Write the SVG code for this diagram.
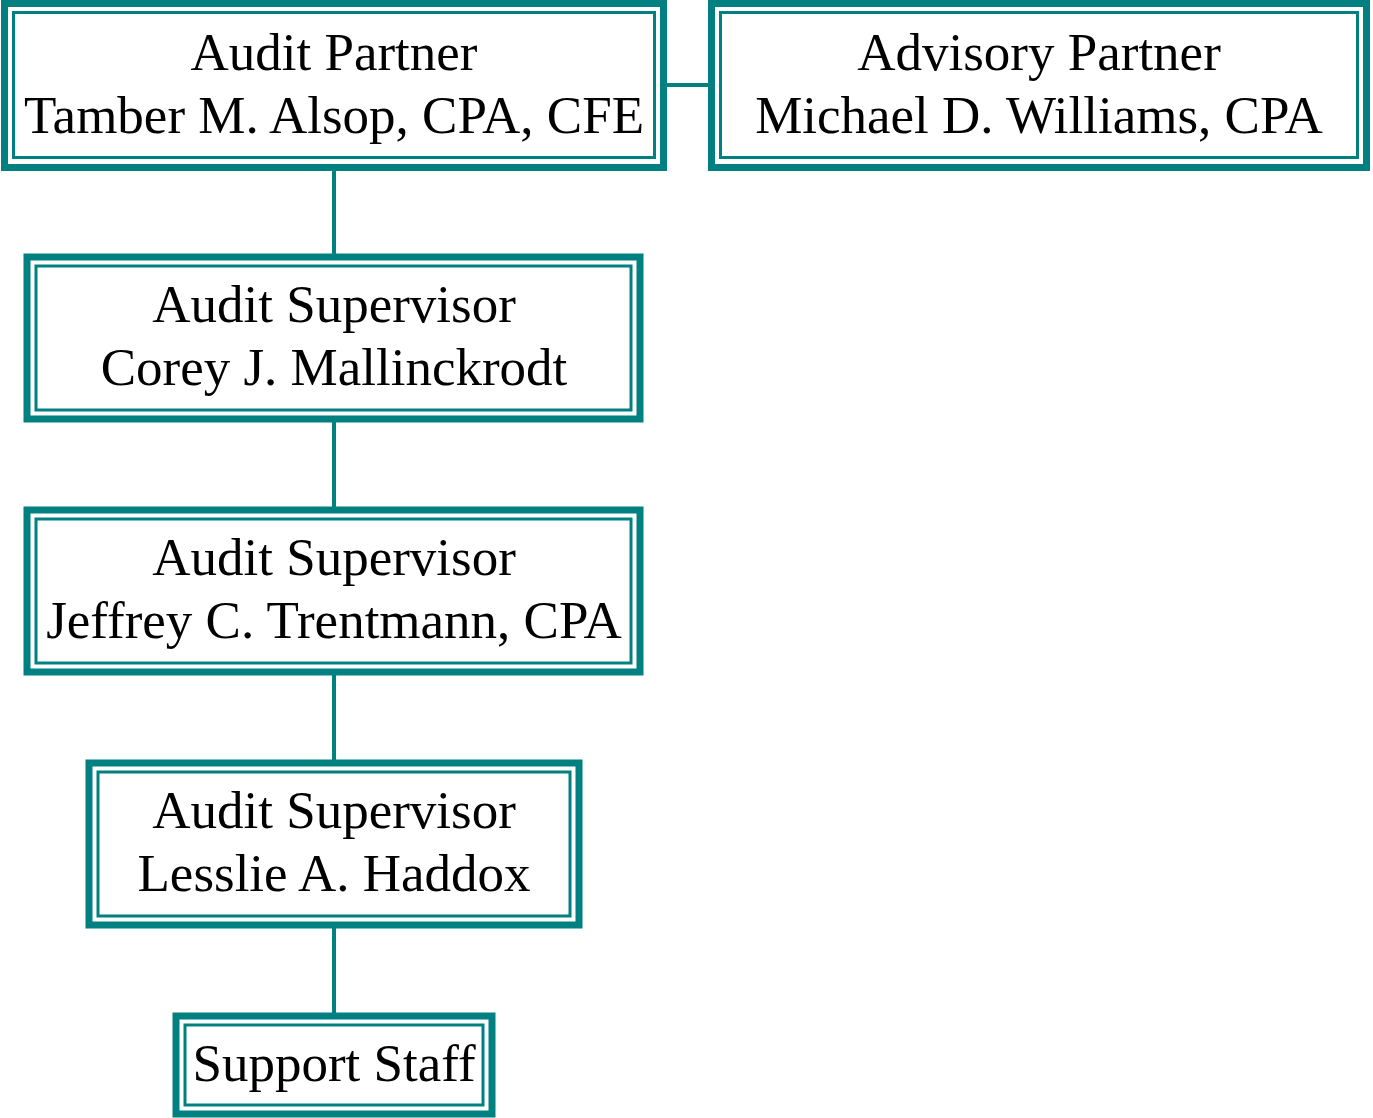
<svg xmlns="http://www.w3.org/2000/svg" width="1373" height="1118" viewBox="0 0 1373 1118">
<style>
.o{fill:#fff;stroke:#008080;stroke-width:7}
.i{fill:none;stroke:#008080;stroke-width:3}
.t{font-family:"Liberation Serif","Times New Roman",serif;font-size:53px;fill:#000;text-anchor:middle}
.c{stroke:#008080;stroke-width:4;fill:none}
</style>
<g id="connectors">
<line class="c" x1="334" y1="170" x2="334" y2="254"/>
<line class="c" x1="334" y1="422" x2="334" y2="507"/>
<line class="c" x1="334" y1="675" x2="334" y2="760"/>
<line class="c" x1="334" y1="928" x2="334" y2="1013"/>
<line class="c" x1="666" y1="85" x2="709" y2="85"/>
</g>
<g id="audit-partner">
<rect class="o" x="4.5" y="3.5" width="659" height="164"/>
<rect class="i" x="13.5" y="12.5" width="641" height="145"/>
<text class="t" x="334" y="70">Audit Partner</text>
<text class="t" x="334" y="133">Tamber M. Alsop, CPA, CFE</text>
</g>
<g id="advisory-partner">
<rect class="o" x="711.5" y="3.5" width="655" height="164"/>
<rect class="i" x="720.5" y="12.5" width="637" height="145"/>
<text class="t" x="1039" y="70">Advisory Partner</text>
<text class="t" x="1039" y="133">Michael D. Williams, CPA</text>
</g>
<g id="supervisor-corey">
<rect class="o" x="27" y="257" width="613" height="162"/>
<rect class="i" x="36" y="266" width="595" height="144"/>
<text class="t" x="334" y="322">Audit Supervisor</text>
<text class="t" x="334" y="385">Corey J. Mallinckrodt</text>
</g>
<g id="supervisor-jeffrey">
<rect class="o" x="27" y="510" width="613" height="162"/>
<rect class="i" x="36" y="519" width="595" height="144"/>
<text class="t" x="334" y="575">Audit Supervisor</text>
<text class="t" x="334" y="638">Jeffrey C. Trentmann, CPA</text>
</g>
<g id="supervisor-lesslie">
<rect class="o" x="89" y="763" width="490" height="162"/>
<rect class="i" x="98" y="772" width="472" height="144"/>
<text class="t" x="334" y="828">Audit Supervisor</text>
<text class="t" x="334" y="891">Lesslie A. Haddox</text>
</g>
<g id="support-staff">
<rect class="o" x="176" y="1016" width="316" height="98"/>
<rect class="i" x="185" y="1025" width="298" height="80"/>
<text class="t" x="334" y="1081">Support Staff</text>
</g>
</svg>
